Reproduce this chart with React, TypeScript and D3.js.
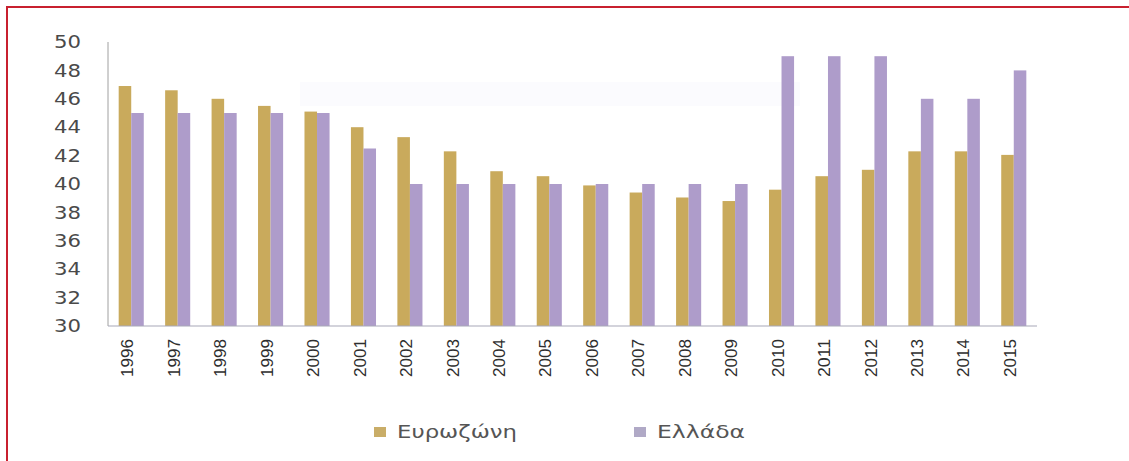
import React from "react";
import * as d3 from "d3";

const years = ["1996","1997","1998","1999","2000","2001","2002","2003","2004","2005","2006","2007","2008","2009","2010","2011","2012","2013","2014","2015"];
const eurozone = [46.9,46.6,46.0,45.5,45.1,44.0,43.3,42.3,40.9,40.55,39.9,39.4,39.05,38.8,39.6,40.55,41.0,42.3,42.3,42.05];
const greece = [45,45,45,45,45,42.5,40,40,40,40,40,40,40,40,49,49,49,46,46,48];
const yTicks = [30,32,34,36,38,40,42,44,46,48,50];
const seriesNames = ["Ευρωζώνη", "Ελλάδα"];
const colors = ["#c9aa5c", "#ae9cca"];
const legendColors = ["#c9ad68", "#b0a9c6"];

export default function App() {
  const W = 1129, H = 461;
  const x0 = 108, x1 = 1037, yTop = 42, yBot = 326;
  const x = d3.scaleBand<string>().domain(years).range([x0, x1]).paddingInner(0.46).paddingOuter(0.23);
  const xs = d3.scaleBand<string>().domain(["0","1"]).range([0, x.bandwidth()]);
  const y = d3.scaleLinear().domain([30, 50]).range([yBot, yTop]);
  const series = [eurozone, greece];
  const font = "'DejaVu Sans', Verdana, sans-serif";
  const legendLen = [120, 88];
  return (
    <svg width={W} height={H} style={{ position: "absolute", left: 0, top: 0, background: "#fff" }}>
      <rect x={0} y={0} width={W} height={H} fill="#fff" />
      <rect x={300} y={82} width={500} height={24} fill="#fbfbfe" />
      <line x1={7} y1={6} x2={7} y2={H} stroke="#c8202f" strokeWidth={2} />
      <line x1={6} y1={7} x2={W} y2={7} stroke="#c8202f" strokeWidth={2} />
      {years.map((yr, i) => (
        <g key={yr}>
          {series.map((s, k) => (
            <rect key={k} x={(x(yr) as number) + (xs(String(k)) as number)} y={y(s[i])}
              width={xs.bandwidth()} height={yBot - y(s[i])} fill={colors[k]} />
          ))}
        </g>
      ))}
      <line x1={x0} y1={yTop} x2={x0} y2={yBot} stroke="#a0a0a0" strokeWidth={1} />
      <line x1={x0} y1={yBot} x2={x1} y2={yBot} stroke="#a8a8b8" strokeWidth={1.2} />
      {yTicks.map(t => (
        <text key={t} x={81} y={y(t)} dy="0.36em" textAnchor="end" fontFamily={font}
          fontSize={17} textLength={27} lengthAdjust="spacingAndGlyphs" fill="#4a4a4a">{t}</text>
      ))}
      {years.map(yr => {
        const cx = (x(yr) as number) + x.bandwidth() / 2 - 4;
        return (
          <text key={yr} transform={`translate(${cx},339) rotate(-90)`} dy="0.36em" textAnchor="end"
            fontFamily="'Liberation Sans', Arial, sans-serif" fontSize={17} textLength={38}
            lengthAdjust="spacingAndGlyphs" fill="#2e2e2e">{yr}</text>
        );
      })}
      {seriesNames.map((n, k) => {
        const lx = k === 0 ? 374 : 634;
        return (
          <g key={n}>
            <rect x={lx} y={427} width={12} height={10} fill={legendColors[k]} />
            <text x={lx + 23} y={432} dy="0.36em" fontFamily={font} fontSize={18}
              textLength={legendLen[k]} lengthAdjust="spacingAndGlyphs" fill="#555">{n}</text>
          </g>
        );
      })}
    </svg>
  );
}
